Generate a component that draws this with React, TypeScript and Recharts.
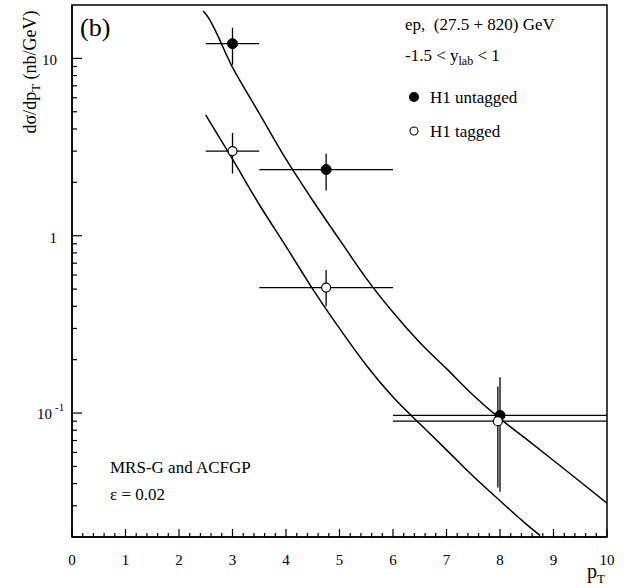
import React from 'react';
import { ComposedChart, XAxis, YAxis, Scatter, Line, ErrorBar, ReferenceArea } from 'recharts';

// ---- data ----
const untaggedX = [3.0, 4.75, 8.0];
const untaggedY = [12.1, 2.36, 0.097];
const untaggedXLow = [2.5, 3.5, 6.0];
const untaggedXHigh = [3.5, 6.0, 10.0];
const untaggedYLow = [9.2, 1.8, 0.036];
const untaggedYHigh = [14.9, 2.9, 0.159];

const taggedX = [3.0, 4.75, 7.96];
const taggedY = [3.0, 0.51, 0.09];
const taggedXLow = [2.5, 3.5, 6.0];
const taggedXHigh = [3.5, 6.0, 10.0];
const taggedYLow = [2.24, 0.4, 0.038];
const taggedYHigh = [3.8, 0.64, 0.141];

const upperCurveX = [2.45, 2.5, 3, 3.5, 4, 4.5, 5, 5.5, 6, 6.5, 7, 7.5, 8, 8.5, 9, 9.5, 10];
const upperCurveY = [18.5, 17.8, 8.9, 4.9, 2.7, 1.58, 0.95, 0.575, 0.37, 0.25, 0.178, 0.126, 0.093, 0.071, 0.054, 0.041, 0.031];

const lowerCurveX = [2.5, 3, 3.5, 4, 4.5, 5, 5.5, 6, 6.5, 7, 7.5, 8, 8.5, 8.75];
const lowerCurveY = [4.8, 2.7, 1.5, 0.87, 0.5, 0.3, 0.186, 0.123, 0.087, 0.062, 0.044, 0.032, 0.0235, 0.0204];

const xMajorTicks = [0, 1, 2, 3, 4, 5, 6, 7, 8, 9, 10];
const xMinorTicks = [0.2, 0.4, 0.6, 0.8];
const yMajorTicks = [0.1, 1, 10];
const yMinorTicks = [0.03, 0.04, 0.05, 0.06, 0.07, 0.08, 0.09, 0.2, 0.3, 0.4, 0.5, 0.6, 0.7, 0.8, 0.9, 2, 3, 4, 5, 6, 7, 8, 9];

// ---- build tables ----
const buildPoints = (xs: number[], ys: number[], xl: number[], xh: number[], yl: number[], yh: number[]) =>
  xs.map((x, i) => ({
    x,
    y: ys[i],
    ex: [x - xl[i], xh[i] - x],
    ey: [ys[i] - yl[i], yh[i] - ys[i]],
  }));

const untagged = buildPoints(untaggedX, untaggedY, untaggedXLow, untaggedXHigh, untaggedYLow, untaggedYHigh);
const tagged = buildPoints(taggedX, taggedY, taggedXLow, taggedXHigh, taggedYLow, taggedYHigh);
const upperCurve = upperCurveX.map((x, i) => ({ x, y: upperCurveY[i] }));
const lowerCurve = lowerCurveX.map((x, i) => ({ x, y: lowerCurveY[i] }));

const xTicks: number[] = [];
xMajorTicks.forEach((m) => {
  xTicks.push(m);
  if (m < 10) xMinorTicks.forEach((f) => xTicks.push(Math.round((m + f) * 10) / 10));
});
const yTicks = [...yMinorTicks, ...yMajorTicks].sort((a, b) => a - b);

const FONT = '"Liberation Serif", "Times New Roman", serif';

const XTick = (props: any) => {
  const { x, y, payload } = props;
  const v = payload.value;
  const major = xMajorTicks.includes(v);
  return (
    <g>
      <line x1={x} x2={x} y1={y} y2={y - (major ? 8 : 4)} stroke="#000" strokeWidth={1.2} />
      {major && (
        <text x={x} y={y + 28} textAnchor="middle" fontFamily={FONT} fontSize={15} fill="#000">
          {String(v)}
        </text>
      )}
    </g>
  );
};

const YTick = (props: any) => {
  const { x, y, payload } = props;
  const v = payload.value;
  const major = yMajorTicks.includes(v);
  let label: React.ReactNode = null;
  if (v === 10) label = (
    <text x={x - 15} y={y + 7} textAnchor="end" fontFamily={FONT} fontSize={15} fill="#000">10</text>
  );
  if (v === 1) label = (
    <text x={x - 15} y={y + 7} textAnchor="end" fontFamily={FONT} fontSize={15} fill="#000">1</text>
  );
  if (v === 0.1) label = (
    <text x={x - 35} y={y + 6} fontFamily={FONT} fontSize={15} fill="#000">
      10<tspan dx={3} dy={-8} fontSize={11}>-1</tspan>
    </text>
  );
  return (
    <g>
      <line x1={x} x2={x + (major ? 10 : 5)} y1={y} y2={y} stroke="#000" strokeWidth={1.2} />
      {label}
    </g>
  );
};

const FilledDot = (props: any) => <circle cx={props.cx} cy={props.cy} r={5} fill="#000" stroke="#000" />;
const OpenDot = (props: any) => (
  <circle cx={props.cx} cy={props.cy} r={4.5} fill="#fff" stroke="#000" strokeWidth={1.2} />
);

export default function App() {
  return (
    <div style={{ position: 'absolute', left: 0, top: 0, background: '#fff' }}>
      <ComposedChart width={633} height={588} margin={{ top: 5, right: 26, bottom: 50, left: 71 }}>
        <XAxis
          dataKey="x"
          type="number"
          domain={[0, 10]}
          allowDataOverflow
          ticks={xTicks}
          interval={0}
          tickSize={0}
          tickMargin={0}
          tickLine={false}
          tick={<XTick />}
          height={1}
          axisLine={{ stroke: '#000', strokeWidth: 1.5 }}
        />
        <YAxis
          dataKey="y"
          type="number"
          scale="log"
          domain={[0.02, 20]}
          allowDataOverflow
          ticks={yTicks}
          interval={0}
          tickSize={0}
          tickMargin={0}
          tickLine={false}
          tick={<YTick />}
          width={1}
          axisLine={{ stroke: '#000', strokeWidth: 1.5 }}
        />
        <ReferenceArea x1={0} x2={10} y1={0.02} y2={20} fill="none" stroke="#000" strokeWidth={1.5} fillOpacity={0} />
        <Scatter data={untagged} dataKey="y" shape={<FilledDot />} isAnimationActive={false}>
          <ErrorBar dataKey="ex" direction="x" width={0} stroke="#000" strokeWidth={1.3} />
          <ErrorBar dataKey="ey" direction="y" width={0} stroke="#000" strokeWidth={1.3} />
        </Scatter>
        <Scatter data={tagged} dataKey="y" shape={<OpenDot />} isAnimationActive={false}>
          <ErrorBar dataKey="ex" direction="x" width={0} stroke="#000" strokeWidth={1.3} />
          <ErrorBar dataKey="ey" direction="y" width={0} stroke="#000" strokeWidth={1.3} />
        </Scatter>
        <Line data={upperCurve} dataKey="y" type="monotone" dot={false} stroke="#000" strokeWidth={1.5} isAnimationActive={false} />
        <Line data={lowerCurve} dataKey="y" type="monotone" dot={false} stroke="#000" strokeWidth={1.5} isAnimationActive={false} />

        <text x={80} y={36} fontFamily={FONT} fontSize={26} fill="#000">(b)</text>
        <text x={405} y={30} fontFamily={FONT} fontSize={17} fill="#000" style={{ whiteSpace: 'pre' }}>
          {'ep,  (27.5 + 820) GeV'}
        </text>
        <text x={405} y={61} fontFamily={FONT} fontSize={17} fill="#000">
          -1.5 &lt; y<tspan dy={4} fontSize={12}>lab</tspan><tspan dy={-4}> &lt; 1</tspan>
        </text>
        <circle cx={414} cy={97} r={5} fill="#000" />
        <text x={430} y={103} fontFamily={FONT} fontSize={17} fill="#000">H1 untagged</text>
        <circle cx={414} cy={131} r={4} fill="#fff" stroke="#000" strokeWidth={1.1} />
        <text x={430} y={137} fontFamily={FONT} fontSize={17} fill="#000">H1 tagged</text>

        <text x={110} y={473} fontFamily={FONT} fontSize={17} fill="#000">MRS-G and ACFGP</text>
        <text x={110} y={500} fontFamily={FONT} fontSize={17} fill="#000">ε = 0.02</text>

        <text x={587} y={578} fontFamily={FONT} fontSize={20} fill="#000">
          p<tspan dy={5} fontSize={13}>T</tspan>
        </text>
        <text
          transform="translate(36, 72) rotate(-90)"
          textAnchor="middle"
          fontFamily={FONT}
          fontSize={18}
          fill="#000"
        >
          dσ/dp<tspan dy={4} fontSize={13}>T</tspan><tspan dy={-4}> (nb/GeV)</tspan>
        </text>
      </ComposedChart>
    </div>
  );
}
